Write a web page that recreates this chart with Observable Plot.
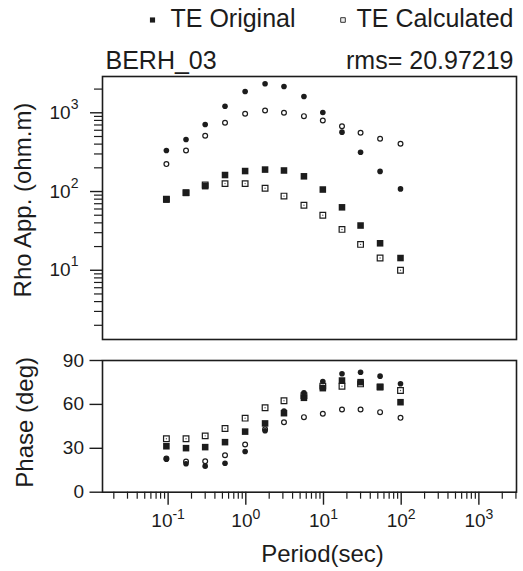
<!DOCTYPE html>
<html><head><meta charset="utf-8">
<script src="https://cdn.jsdelivr.net/npm/d3@7"></script>
<script src="https://cdn.jsdelivr.net/npm/@observablehq/plot@0.6"></script>
<style>
html,body{margin:0;padding:0;background:#fff;}
#wrap{position:relative;width:523px;height:571px;overflow:hidden;background:#fff;}
#wrap svg{position:absolute;left:0;}
</style></head><body><div id="wrap"></div>
<script>
// ---- data ----
const periods = [0.095, 0.17, 0.3, 0.54, 0.98, 1.77, 3.1, 5.6, 9.8, 17.3, 30, 53.5, 98];
// apparent resistivity (ohm.m)
const rhoTEOriginal   = [79, 96, 117, 162, 182, 190, 185, 156, 106, 63, 37, 22, 14.3];
const rhoTECalculated = [80, 97, 121, 126, 126, 110, 87.5, 67, 50, 33, 21.3, 14.3, 10];
const rhoTMOriginal   = [332, 458, 710, 1213, 1863, 2335, 2157, 1611, 1008, 568, 316, 180, 108];
const rhoTMCalculated = [223, 332, 510, 747, 971, 1070, 1000, 906, 798, 676, 557, 468, 404];
// phase (deg)
const phaseTEOriginal   = [31.4, 30.1, 30.8, 34.2, 41.4, 47, 54, 64.5, 71.1, 76.3, 75.2, 71.8, 61.5];
const phaseTECalculated = [36.5, 36.5, 38.5, 43.5, 50.6, 57.7, 62.5, 66, 72.5, 72.4, 74, 72, 69.5];
const phaseTMOriginal   = [22.6, 19.4, 17.8, 19.8, 27.8, 42, 55.5, 67.9, 75.7, 80.9, 82, 79.3, 74.1];
const phaseTMCalculated = [23, 21, 21.2, 25.3, 32.6, 43, 47.8, 51.3, 53.6, 56.5, 56.5, 54.7, 50.8];
// axes
const xDomain = [0.0143, 3050];
const xMajorTicks = [0.1, 1, 10, 100, 1000];
const xMinorTicks = [0.02,0.03,0.04,0.05,0.06,0.07,0.08,0.09, 0.2,0.3,0.4,0.5,0.6,0.7,0.8,0.9,
  2,3,4,5,6,7,8,9, 20,30,40,50,60,70,80,90, 200,300,400,500,600,700,800,900, 2000,3000];
const rhoDomain = [1.32, 2890];
const rhoMajorTicks = [10, 100, 1000];
const rhoMinorTicks = [2,3,4,5,6,7,8,9, 20,30,40,50,60,70,80,90, 200,300,400,500,600,700,800,900, 2000];
const phaseDomain = [0, 90];
const phaseTicks = [0, 30, 60, 90];
const legendLabels = ["TE Original", "TE Calculated"];
const stationName = "BERH_03";
const rmsText = "rms= 20.97219";
const rhoLabel = "Rho App. (ohm.m)";
const phaseLabel = "Phase (deg)";
const periodLabel = "Period(sec)";

// ---- helpers ----
const rows = (vals) => periods.map((p, i) => ({period: p, value: vals[i]}));
const powFmt = d => "10^" + Math.round(Math.log10(d));
const INK = "#1c1c1c";
const FONT = "'Liberation Sans', Arial, sans-serif";
const W = 523, ML = 102, MR = 7;

function seriesMarks(te0, te1, tm0, tm1) {
  return [
    Plot.dot(rows(te1), {x: "period", y: "value", symbol: "square", r: 3.2, fill: "white", stroke: INK, strokeWidth: 1.2}),
    Plot.dot(rows(te1), {x: "period", y: "value", r: 0.7, fill: "#555"}),
    Plot.dot(rows(tm1), {x: "period", y: "value", r: 2.4, fill: "white", stroke: INK, strokeWidth: 1.2}),
    Plot.dot(rows(te0), {x: "period", y: "value", symbol: "square", r: 3.7, fill: INK}),
    Plot.dot(rows(tm0), {x: "period", y: "value", r: 2.8, fill: INK})
  ];
}

function supify(svg, raise) {
  d3.select(svg).selectAll("text").each(function () {
    const m = /^10\^(-?\d+)$/.exec(this.textContent);
    if (!m) return;
    const t = d3.select(this);
    t.text(null);
    t.append("tspan").text("10");
    t.append("tspan").attr("dy", -raise).attr("font-size", "0.74em").text(m[1]);
  });
}

const common = {fontFamily: FONT, color: INK, background: "transparent", overflow: "visible"};

// ---- top panel: apparent resistivity ----
const topPlot = Plot.plot({
  width: W, height: 345,
  marginLeft: ML, marginRight: MR, marginTop: 76, marginBottom: 6,
  style: common,
  x: {type: "log", domain: xDomain, axis: null},
  y: {type: "log", domain: rhoDomain, axis: null},
  marks: [
    Plot.axisY(rhoMinorTicks, {tickSize: 8, tickFormat: () => "", strokeWidth: 1.2, label: null}),
    Plot.axisY(rhoMajorTicks, {tickSize: 12, tickPadding: 12, fontSize: 19, tickFormat: powFmt, strokeWidth: 1.4, label: null}),
    Plot.frame({stroke: INK, strokeWidth: 1.6}),
    ...seriesMarks(rhoTEOriginal, rhoTECalculated, rhoTMOriginal, rhoTMCalculated),
    Plot.text([rhoLabel], {frameAnchor: "left", textAnchor: "middle", dx: -79, dy: -8, rotate: -90, fontSize: 24, fill: INK}),
    Plot.text([stationName], {frameAnchor: "top-left", textAnchor: "start", lineAnchor: "bottom", dx: 3, dy: -8, fontSize: 25, fill: INK}),
    Plot.text([rmsText], {frameAnchor: "top-right", textAnchor: "end", lineAnchor: "bottom", dx: -3, dy: -8, fontSize: 25, fill: INK}),
    Plot.dot([legendLabels[0]], {frameAnchor: "top-left", dx: 50, dy: -56.5, symbol: "square", r: 2.9, fill: INK}),
    Plot.dot([legendLabels[1]], {frameAnchor: "top-left", dx: 240.5, dy: -56.5, symbol: "square", r: 2.6, fill: "#eee", stroke: "#333", strokeWidth: 1}),
    Plot.text([legendLabels[0]], {frameAnchor: "top-left", textAnchor: "start", lineAnchor: "bottom", dx: 68, dy: -49.5, fontSize: 25, fill: INK}),
    Plot.text([legendLabels[1]], {frameAnchor: "top-left", textAnchor: "start", lineAnchor: "bottom", dx: 254, dy: -49.5, fontSize: 25, fill: INK})
  ]
});
topPlot.style.top = "0px";
supify(topPlot, 10);

// ---- bottom panel: phase ----
const botPlot = Plot.plot({
  width: W, height: 226,
  marginLeft: ML, marginRight: MR, marginTop: 15, marginBottom: 79.3,
  style: common,
  x: {type: "log", domain: xDomain},
  y: {domain: phaseDomain},
  marks: [
    Plot.axisY(phaseTicks, {tickSize: 12.5, tickPadding: 6, fontSize: 19, strokeWidth: 1.4, label: null}),
    Plot.axisX(xMinorTicks, {tickSize: 7, tickFormat: () => "", strokeWidth: 1.2, label: null}),
    Plot.axisX(xMajorTicks, {tickSize: 13, tickPadding: 8, fontSize: 19, tickFormat: powFmt, strokeWidth: 1.4, label: null}),
    Plot.frame({stroke: INK, strokeWidth: 1.6}),
    ...seriesMarks(phaseTEOriginal, phaseTECalculated, phaseTMOriginal, phaseTMCalculated),
    Plot.text([phaseLabel], {frameAnchor: "left", textAnchor: "middle", dx: -77, dy: -4, rotate: -90, fontSize: 24, fill: INK}),
    Plot.text([periodLabel], {frameAnchor: "bottom", lineAnchor: "bottom", dx: 13, dy: 70, fontSize: 24, fill: INK})
  ]
});
botPlot.style.top = "345px";
supify(botPlot, 8);

const wrap = document.getElementById("wrap");
wrap.appendChild(topPlot);
wrap.appendChild(botPlot);
</script></body></html>
